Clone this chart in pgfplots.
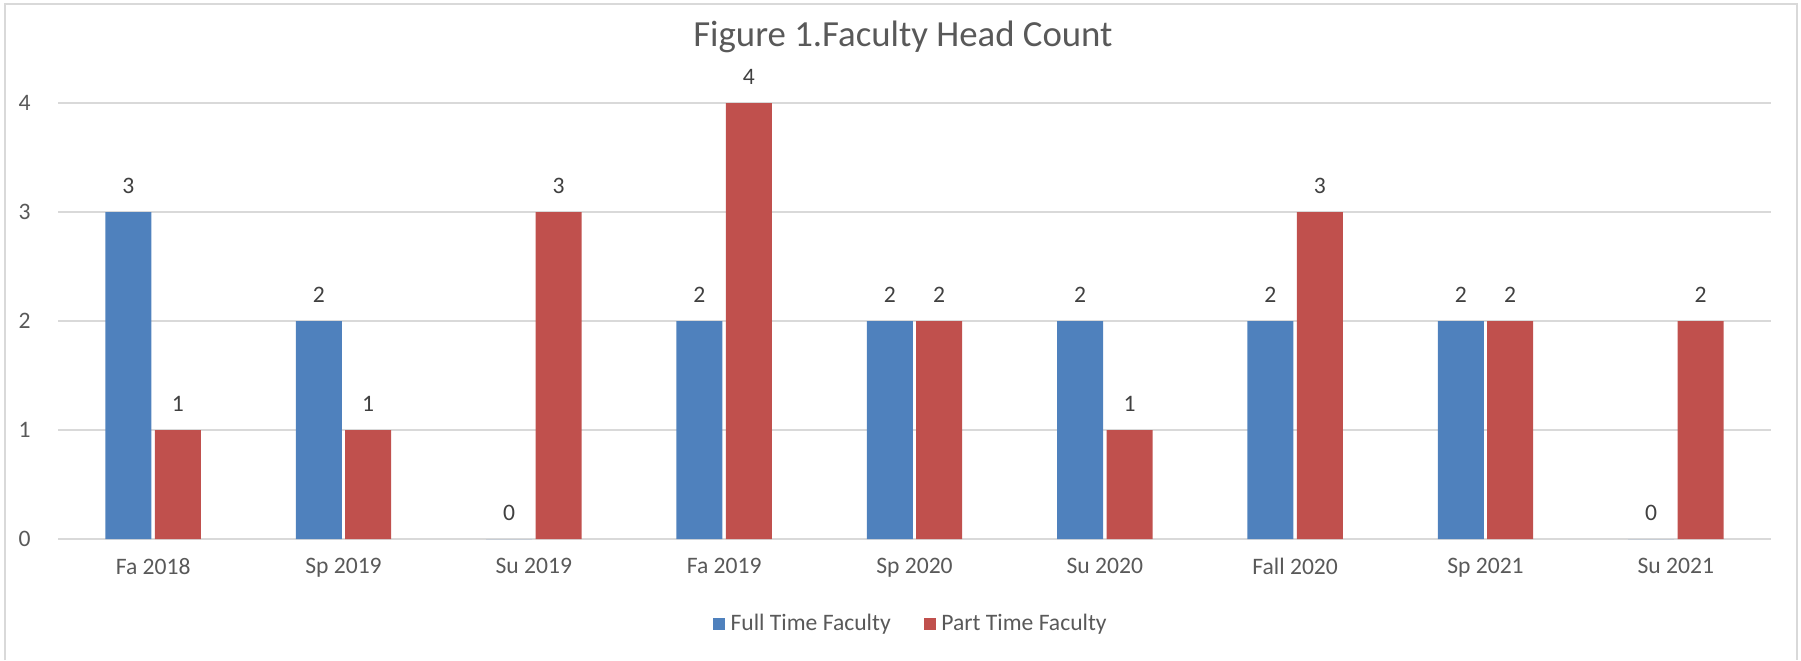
\documentclass[border=0pt]{standalone}
\usepackage{pgfplots}
\pgfplotsset{compat=1.18}
\usepackage{fontspec}
\setmainfont{Carlito}
\definecolor{ftblue}{HTML}{4F81BD}
\definecolor{ptred}{HTML}{C0504D}
\definecolor{gridgray}{HTML}{D9D9D9}
\definecolor{txtgray}{HTML}{595959}
\definecolor{lblgray}{HTML}{404040}
\begin{document}
\begin{tikzpicture}
\path[use as bounding box] (0pt,0pt) rectangle (900.5pt,330pt);
\draw[gridgray, line width=0.75pt] (2.5pt,0pt) -- (2.5pt,328pt) -- (898.5pt,328pt) -- (898.5pt,0pt);
\begin{axis}[
  at={(29pt,60.5pt)}, anchor=south west,
  scale only axis, width=856.5pt, height=218pt,
  ybar=1.7pt, bar width=23pt,
  xmin=-0.5, xmax=8.5, ymin=0, ymax=4,
  xtick={0,1,2,3,4,5,6,7,8},
  xticklabels={Fa 2018,Sp 2019,Su 2019,Fa 2019,Sp 2020,Su 2020,Fall 2020,Sp 2021,Su 2021},
  ytick={0,1,2,3,4},
  ymajorgrids, grid style={gridgray, line width=0.75pt},
  axis line style={draw=none},
  major tick length=0pt,
  clip=false,
  /pgf/number format/assume math mode=true,
  tick label style={font=\fontsize{11.8}{14}\selectfont, text=txtgray},
  yticklabel style={anchor=east, inner sep=0pt, xshift=-13.5pt},
  xticklabel style={anchor=north, inner sep=0pt, yshift=-9.5pt},
  title={Figure 1.Faculty Head Count},
  title style={at={(0.5,1)}, anchor=center, yshift=27pt, xshift=-5.75pt, font=\fontsize{18.4}{22}\selectfont, text=txtgray},
  nodes near coords,
  every node near coord/.append style={font=\fontsize{11.8}{14}\selectfont, text=lblgray, anchor=south, inner sep=0pt, yshift=9pt},
  legend columns=2,
  legend style={at={(0.5,0)}, anchor=center, yshift=-42.5pt, xshift=-2.25pt, draw=none, fill=none,
    font=\fontsize{11.8}{14}\selectfont, text=txtgray, nodes={inner sep=0pt},
    /tikz/every odd column/.append style={column sep=2.9pt},
    /tikz/every even column/.append style={column sep=16.7pt}},
  legend image code/.code={\fill[#1] (0pt,-2.875pt) rectangle (5.75pt,2.875pt);},
]
\addplot[fill=ftblue, draw=none] coordinates {(0,3) (1,2) (2,0) (3,2) (4,2) (5,2) (6,2) (7,2) (8,0)};
\addplot[fill=ptred, draw=none] coordinates {(0,1) (1,1) (2,3) (3,4) (4,2) (5,1) (6,3) (7,2) (8,2)};
\legend{Full Time Faculty, Part Time Faculty}
\end{axis}
\end{tikzpicture}
\end{document}
